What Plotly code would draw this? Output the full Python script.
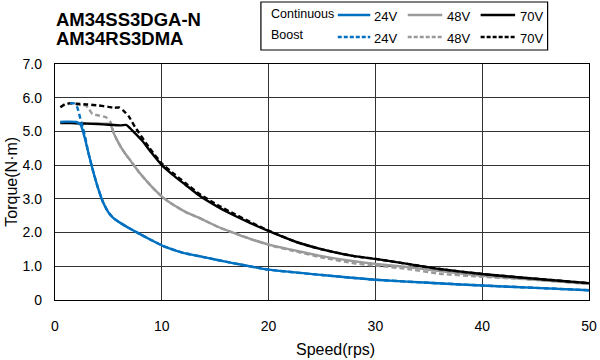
import plotly.graph_objects as go

# ---------------- data ----------------
speed_24c = [0.5, 1.0, 2.0, 2.4, 2.77, 3.07, 3.5, 4.0, 4.5, 5.0, 5.5, 6.15, 7.0, 7.7, 9.0, 10.15,
             12.0, 13.8, 15.0, 16.9, 20, 25, 30, 35, 40, 45, 50]
torque_24c = [5.28, 5.29, 5.28, 5.2, 4.83, 4.44, 3.9, 3.35, 2.9, 2.6, 2.42, 2.28, 2.12, 2.0, 1.78, 1.6,
              1.4, 1.28, 1.2, 1.08, 0.9, 0.74, 0.6, 0.51, 0.43, 0.36, 0.29]

speed_24b = [1.4, 1.6, 1.85, 2.1, 2.3, 2.6, 2.85, 3.07, 3.5, 4.0, 4.5, 5.0, 5.5, 6.15, 7.0, 7.7, 9.0,
             10.15, 12.0, 13.8, 15.0, 16.9, 20, 25, 30, 35, 40, 45, 50]
torque_24b = [5.84, 5.84, 5.82, 5.7, 5.47, 5.13, 4.8, 4.44, 3.9, 3.35, 2.9, 2.6, 2.42, 2.28, 2.12, 2.0,
              1.78, 1.6, 1.4, 1.28, 1.2, 1.08, 0.9, 0.74, 0.6, 0.51, 0.43, 0.36, 0.29]

speed_48c = [0.5, 1, 2, 3, 4, 5.0, 5.2, 5.5, 5.8, 6.2, 6.6, 7.1, 7.8, 8.6, 9.3, 10.15, 11.0, 12.3,
             13.4, 15.4, 16.4, 18.4, 20.3, 22, 25, 28, 30, 33, 36, 40, 45, 50]
torque_48c = [5.28, 5.27, 5.25, 5.24, 5.23, 5.23, 5.2, 4.95, 4.75, 4.52, 4.33, 4.12, 3.82, 3.52, 3.28,
              3.03, 2.84, 2.6, 2.45, 2.15, 2.03, 1.8, 1.62, 1.5, 1.3, 1.15, 1.07, 0.98, 0.86, 0.72, 0.6, 0.48]

speed_48b = [0.5, 1.0, 1.5, 2.0, 2.5, 2.9, 3.2, 3.5, 4.15, 4.77, 5.2, 5.5, 5.8, 6.2, 6.6, 7.1, 7.8,
             8.6, 9.3, 10.15, 11.0, 12.3, 13.4, 15.4, 16.4, 18.4, 20.3, 22, 25, 28, 30, 33, 36, 40, 45, 50]
torque_48b = [5.72, 5.8, 5.82, 5.8, 5.78, 5.77, 5.65, 5.52, 5.47, 5.42, 5.28, 4.95, 4.75, 4.52, 4.33,
              4.12, 3.82, 3.52, 3.28, 3.03, 2.84, 2.6, 2.45, 2.15, 2.03, 1.8, 1.61, 1.48, 1.26, 1.09,
              1.02, 0.92, 0.78, 0.69, 0.6, 0.48]

speed_70c = [0.5, 1, 2, 3, 4, 5, 6.15, 6.7, 7.2, 8.15, 9.0, 10.0, 11.0, 12.2, 13.5, 15.2, 16.5,
             18.3, 20.2, 22.6, 25, 28, 30, 33, 36, 40, 45, 50]
torque_70c = [5.25, 5.25, 5.24, 5.23, 5.22, 5.2, 5.18, 5.19, 5.04, 4.73, 4.38, 4.0, 3.72, 3.42, 3.1,
              2.77, 2.55, 2.28, 2.02, 1.72, 1.5, 1.3, 1.22, 1.07, 0.92, 0.77, 0.63, 0.5]

speed_70b = [0.5, 0.9, 1.4, 2.0, 3.0, 4.1, 5.0, 5.5, 6.0, 6.4, 6.9, 7.5, 8.8, 10.0, 11.0, 12.2, 13.5,
             15.2, 16.5, 18.3, 20.2, 22.6, 25, 28, 30, 33, 36, 40, 45, 50]
torque_70b = [5.72, 5.8, 5.84, 5.82, 5.8, 5.77, 5.73, 5.7, 5.71, 5.62, 5.45, 5.13, 4.53, 4.05, 3.78,
              3.47, 3.15, 2.82, 2.6, 2.31, 2.03, 1.72, 1.5, 1.3, 1.22, 1.07, 0.92, 0.77, 0.63, 0.5]

x_ticks = [0, 10, 20, 30, 40, 50]
y_ticks = [0, 1, 2, 3, 4, 5, 6, 7]
y_tick_text = ["0", "1.0", "2.0", "3.0", "4.0", "5.0", "6.0", "7.0"]

BLUE = "#0070C0"
GRAY = "#9a9a9a"
BLACK = "#000000"
DASH = "5px,3px"
LW = 2.4

series = [
    (speed_48c, torque_48c, GRAY, "solid"),
    (speed_48b, torque_48b, GRAY, DASH),
    (speed_70c, torque_70c, BLACK, "solid"),
    (speed_70b, torque_70b, BLACK, DASH),
    (speed_24c, torque_24c, BLUE, "solid"),
    (speed_24b, torque_24b, BLUE, DASH),
]

fig = go.Figure()
for xs, ys, col, dash in series:
    fig.add_trace(go.Scatter(x=xs, y=ys, mode="lines", showlegend=False,
                             line=dict(color=col, width=LW, dash=dash, shape="spline", smoothing=0.5),
                             hoverinfo="skip"))

W, H = 600, 360
PLOT_L, PLOT_R, PLOT_T, PLOT_B = 55, 597, 64, 300   # window pixels
L, T = PLOT_L, PLOT_T
R = W - PLOT_R
B = H - PLOT_B
PW, PH = PLOT_R - PLOT_L, PLOT_B - PLOT_T


def px(x):
    return (x - PLOT_L) / PW


def py(y):
    return (PLOT_B - y) / PH


FONT = "Liberation Sans, Arial, sans-serif"

annotations = [
    dict(text="<b>AM34SS3DGA-N</b>", x=px(54), y=py(19), xanchor="left", yanchor="middle",
         font=dict(size=18.5, color="black")),
    dict(text="<b>AM34RS3DMA</b>", x=px(54), y=py(38), xanchor="left", yanchor="middle",
         font=dict(size=18.5, color="black")),
    dict(text="Speed(rps)", x=px(340), y=py(349), xanchor="center", yanchor="middle",
         font=dict(size=16, color="black")),
    dict(text="Torque(N·m)", x=px(10), y=py(182), xanchor="center", yanchor="middle",
         textangle=-90, font=dict(size=16, color="black")),
    dict(text="Continuous", x=px(272), y=py(14), xanchor="left", yanchor="middle",
         font=dict(size=12.5, color="black")),
    dict(text="Boost", x=px(272), y=py(35), xanchor="left", yanchor="middle",
         font=dict(size=12.5, color="black")),
]
shapes = [
    dict(type="rect", xref="paper", yref="paper", x0=px(264), x1=px(555), y0=py(50), y1=py(2),
         line=dict(color="black", width=1.2), fillcolor="white", layer="above"),
]
legend_items = [(342, 375, 377, "24V", BLUE), (413, 448, 451, "48V", GRAY), (487, 522, 525, "70V", BLACK)]
for x0, x1, xt, lab, col in legend_items:
    for yrow, dash in ((15, "solid"), (37, "4px,2px")):
        shapes.append(dict(type="line", xref="paper", yref="paper", x0=px(x0), x1=px(x1),
                           y0=py(yrow), y1=py(yrow), line=dict(color=col, width=2.4, dash=dash),
                           layer="above"))
        annotations.append(dict(text=lab, x=px(xt), y=py(yrow + 1), xanchor="left", yanchor="middle",
                                font=dict(size=13, color="black")))

for a in annotations:
    a.update(xref="paper", yref="paper", showarrow=False)

fig.update_layout(
    width=W, height=H,
    margin=dict(l=L, r=R, t=T, b=B),
    paper_bgcolor="white", plot_bgcolor="white",
    font=dict(family=FONT, size=14, color="black"),
    annotations=annotations, shapes=shapes,
    xaxis=dict(range=[0, 50], tickvals=x_ticks, showgrid=True, gridcolor="#333333", gridwidth=1,
               showline=True, linecolor="black", linewidth=1.2, mirror=True, zeroline=False,
               ticks="", ticklabelstandoff=13, tickfont=dict(size=14), ticklabeloverflow="allow"),
    yaxis=dict(range=[0, 7], tickvals=y_ticks, ticktext=y_tick_text, showgrid=True,
               gridcolor="#333333", gridwidth=1, showline=True, linecolor="black", linewidth=1.2,
               mirror=True, zeroline=False, ticks="", ticklabelstandoff=9, tickfont=dict(size=14)),
)

fig.write_html("out.html",
               config={"displayModeBar": False, "staticPlot": True},
               post_script="document.body.style.margin='0';document.body.style.overflow='hidden';")
